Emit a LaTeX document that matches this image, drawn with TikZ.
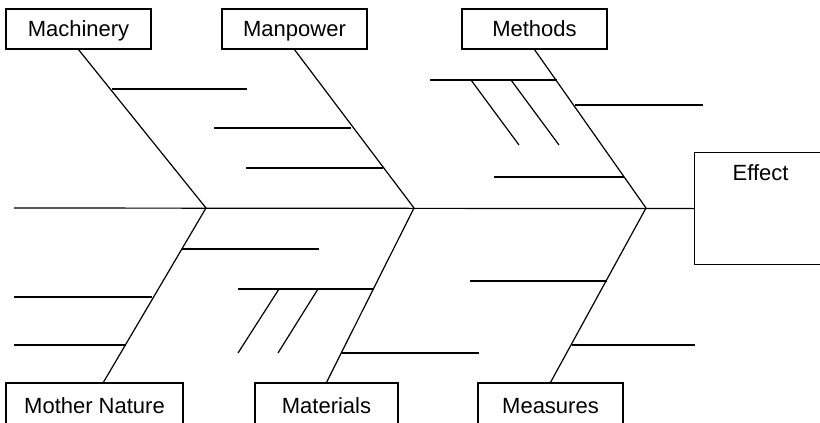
\documentclass[tikz,border=0pt]{standalone}
\usepackage{fontspec}
\setmainfont{Liberation Sans}
\usetikzlibrary{positioning}
\begin{document}
\begin{tikzpicture}[x=1pt, y=-1pt, line width=1.2pt]
	  \tikzstyle{every node} = [rectangle, draw=black, line width=1.2pt, minimum height=40pt, inner sep=0pt, text height=18pt, text depth=3pt, font=\fontsize{22}{26}\selectfont]
	  \useasboundingbox (0,0) rectangle (820,423);
	  \clip (0,0) rectangle (820,423);
	  % causes
	  \node (mach)[minimum width=145pt] at (78.5, 29) {Machinery};
	  \node (manp)[minimum width=145pt] at (294.5, 29) {Manpower};
	  \node (meth)[minimum width=145pt] at (534.5, 29) {Methods};
	  \node (mnat)[minimum width=177pt, minimum height=45pt] at (94.5, 405.5) {Mother Nature};
	  \node (matr)[minimum width=143pt, minimum height=45pt] at (326.5, 405.5) {Materials};
	  \node (meas)[minimum width=145pt, minimum height=45pt] at (550.5, 405.5) {Measures};
	  % effect
	  \node (effect)[minimum width=132pt, minimum height=112pt, anchor=north west] at (694, 152) {};
	  \node (efflabel)[draw=none, minimum height=0pt, below=10pt of effect.north] {Effect};
	  \coordinate (tail) at (14, 208);
	  \coordinate (h1) at (206, 208);
	  \coordinate (h2) at (414, 208);
	  \coordinate (h3) at (646, 208);
	  \coordinate (mnfoot) at (103, 383);
	  \draw (tail) -- (effect.west);
	  \draw (mach.south) -- (h1) -- (mnfoot);
	  \draw (manp.south) -- (h2) -- (matr.north);
	  \draw (meth.south) -- (h3) -- (meas.north);
	  % sub causes
	  \foreach \xa/\xb/\y in {112/247/89, 214/351/128, 246/383/168, 430/557/80, 575/703/105, 494/624/177,
	    182/319/249, 14/152/297, 14/126/345, 238/374/289, 342/479/353, 470/607/281, 572/695/345}
	    \draw (\xa, \y) -- (\xb, \y);
	  \foreach \xa/\ya/\xb/\yb in {471/80/519/145, 511/80/559/145, 279/289/238/353, 318/289/278/353}
	    \draw (\xa, \ya) -- (\xb, \yb);
	\end{tikzpicture}
\end{document}
